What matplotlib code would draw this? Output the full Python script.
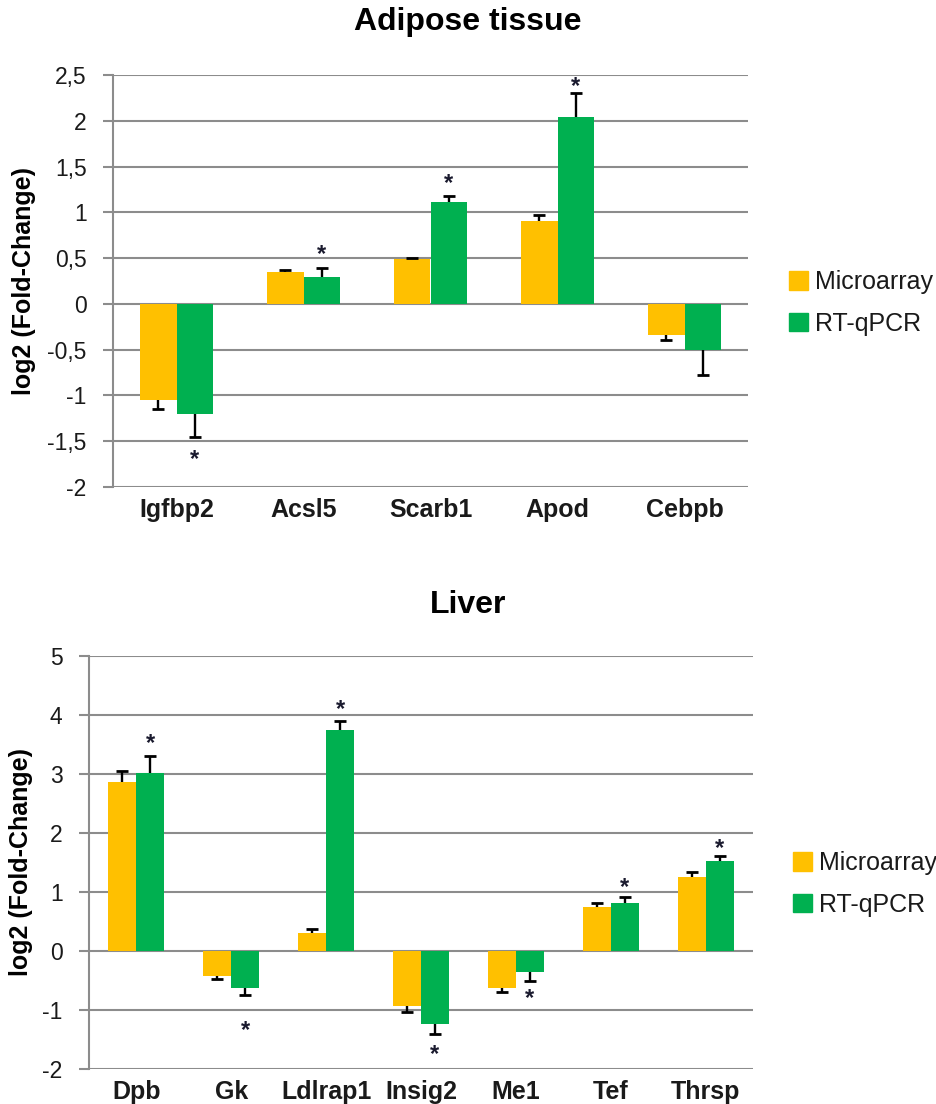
import matplotlib
matplotlib.use("Agg")
import matplotlib.pyplot as plt
import numpy as np
from matplotlib.patches import Patch

plt.rcParams['font.family'] = ['Liberation Sans', 'DejaVu Sans']

# ---------------- data ----------------
adipose_genes = ["Igfbp2", "Acsl5", "Scarb1", "Apod", "Cebpb"]
adipose_micro = [-1.05, 0.35, 0.49, 0.91, -0.335]
adipose_micro_err = [0.10, 0.02, 0.01, 0.06, 0.06]
adipose_rt = [-1.20, 0.29, 1.11, 2.04, -0.50]
adipose_rt_err = [0.25, 0.10, 0.07, 0.26, 0.28]
adipose_star_y = [-1.63, 0.61, 1.39, 2.45, None]
adipose_ticks = [2.5, 2, 1.5, 1, 0.5, 0, -0.5, -1, -1.5, -2]
adipose_ticklabels = ["2,5", "2", "1,5", "1", "0,5", "0", "-0,5", "-1", "-1,5", "-2"]

liver_genes = ["Dpb", "Gk", "Ldlrap1", "Insig2", "Me1", "Tef", "Thrsp"]
liver_micro = [2.86, -0.42, 0.31, -0.93, -0.62, 0.75, 1.25]
liver_micro_err = [0.19, 0.05, 0.06, 0.11, 0.08, 0.06, 0.09]
liver_rt = [3.02, -0.62, 3.74, -1.23, -0.35, 0.82, 1.52]
liver_rt_err = [0.28, 0.12, 0.16, 0.18, 0.16, 0.09, 0.09]
liver_star_y = [3.63, -1.24, 4.21, -1.65, -0.70, 1.18, 1.85]
liver_ticks = [5, 4, 3, 2, 1, 0, -1, -2]
liver_ticklabels = ["5", "4", "3", "2", "1", "0", "-1", "-2"]

series_names = ["Microarray", "RT-qPCR"]
YELLOW = "#FFC000"
GREEN = "#00B050"
GRID = "#8C8C8C"
TXT = "#1A1A1A"

W, H = 936, 1104
fig = plt.figure(figsize=(W / 100, H / 100), dpi=100)


def px_rect(x0, y0, x1, y1):
    return [x0 / W, 1 - y1 / H, (x1 - x0) / W, (y1 - y0) / H]


def draw_panel(rect, genes, micro, micro_err, rt, rt_err, star_y, ticks, ticklabels,
               bar_w, title, title_y, ylabel_x, legend_xy):
    ax = fig.add_axes(rect)
    n = len(genes)
    x = np.arange(n)
    micro = np.array(micro, float)
    rt = np.array(rt, float)
    ax.bar(x - bar_w / 2, micro, bar_w, color=YELLOW, zorder=2)
    ax.bar(x + bar_w / 2, rt, bar_w, color=GREEN, zorder=2)
    for xs, v, e in ((x - bar_w / 2, micro, np.array(micro_err)),
                     (x + bar_w / 2, rt, np.array(rt_err))):
        end = v + np.sign(v) * e
        ax.vlines(xs, v, end, color="black", lw=1.7, zorder=3)
        ax.plot(xs, end, ls="none", marker="_", ms=9, mew=2.0, color="black", zorder=3)
    for xi, sy in zip(x + bar_w / 2, star_y):
        if sy is not None:
            ax.annotate("*", (xi, sy), xytext=(0, -13), textcoords="offset pixels",
                        ha="center", va="baseline", fontsize=17, fontweight="bold",
                        color="#1a1a2e", zorder=4)
    ax.set_xlim(-0.5, n - 0.5)
    ax.set_ylim(min(ticks), max(ticks))
    ax.set_yticks(ticks)
    ax.set_yticklabels(ticklabels)
    ax.yaxis.grid(True, color=GRID, lw=1.5)
    ax.set_axisbelow(True)
    for s in ("top", "right", "bottom"):
        ax.spines[s].set_visible(False)
    ax.spines["left"].set_color(GRID)
    ax.spines["left"].set_linewidth(1.5)
    ax.tick_params(axis="y", length=7, width=1.5, color=GRID, pad=12,
                   labelsize=16.5, labelcolor=TXT)
    ax.set_xticks(x)
    ax.set_xticklabels(genes, fontsize=18, fontweight="bold", color=TXT)
    ax.tick_params(axis="x", length=0, pad=8)
    fig.text(0.5, title_y, title, ha="center", va="center", fontsize=23,
             fontweight="bold", color="black")
    cy = rect[1] + rect[3] / 2
    fig.text(ylabel_x, cy, "log2 (Fold-Change)", rotation=90, ha="center",
             va="center", fontsize=18, fontweight="bold", color="black")
    handles = [Patch(color=YELLOW), Patch(color=GREEN)]
    fig.legend(handles, series_names, loc="center left", bbox_to_anchor=legend_xy,
               bbox_transform=fig.transFigure, frameon=False, fontsize=18,
               handlelength=0.75, handleheight=0.75, handletextpad=0.3,
               labelspacing=0.7, borderpad=0, borderaxespad=0, labelcolor=TXT)
    return ax


draw_panel(px_rect(113, 75, 748, 487), adipose_genes, adipose_micro, adipose_micro_err,
           adipose_rt, adipose_rt_err, adipose_star_y, adipose_ticks, adipose_ticklabels,
           0.285, "Adipose tissue", 1 - 22 / H, 24 / W, (789 / W, 1 - 303 / H))

draw_panel(px_rect(89, 656, 753, 1069), liver_genes, liver_micro, liver_micro_err,
           liver_rt, liver_rt_err, liver_star_y, liver_ticks, liver_ticklabels,
           0.295, "Liver", 1 - 605 / H, 21 / W, (793 / W, 1 - 884 / H))

fig.savefig("out.png", dpi=100, facecolor="white")
